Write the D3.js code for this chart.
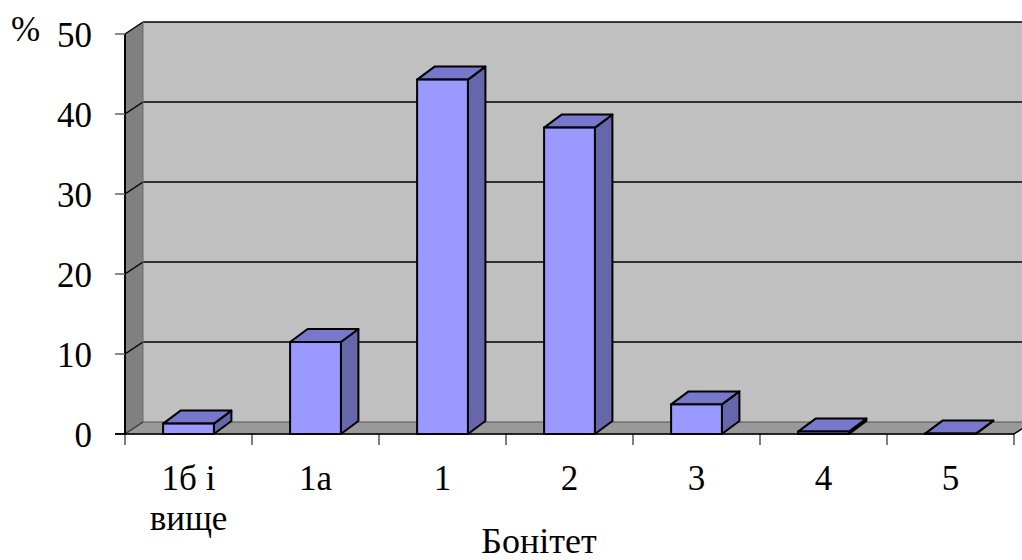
<!DOCTYPE html>
<html>
<head>
<meta charset="utf-8">
<script src="https://cdn.jsdelivr.net/npm/d3@7"></script>
<style>
  html, body { margin: 0; padding: 0; background: #fff; }
  svg { display: block; }
  text { font-family: "Liberation Serif", "Times New Roman", serif; fill: #000; }
</style>
</head>
<body>
<svg id="chart" width="1022" height="560"></svg>
<script>
const categories = ["1б і вище", "1а", "1", "2", "3", "4", "5"];
const values = [1.3, 11.5, 44.3, 38.3, 3.7, 0.3, 0.05];
const yTicks = [0, 10, 20, 30, 40, 50];
const yUnit = "%";
const xTitle = "Бонітет";

const svg = d3.select("#chart");
const W = 1022, H = 560;

const x0 = 125, x1 = 1014;        // front plot edge
const yTop = 34, yBot = 434;      // front value range
const DX = 18, DY = 12;           // wall depth
const BDX = 17.5, BDY = 13;       // bar depth

const x = d3.scaleBand().domain(categories).range([x0, x1]).paddingInner(0.6).paddingOuter(0.3);
const y = d3.scaleLinear().domain([0, 50]).range([yBot, yTop]);

// left wall
svg.append("polygon")
  .attr("points", [[x0, y(50)], [x0 + DX, y(50) - DY], [x0 + DX, y(0) - DY], [x0, y(0)]].join(" "))
  .attr("fill", "#808080");

// back wall
svg.append("rect")
  .attr("x", x0 + DX).attr("y", y(50) - DY)
  .attr("width", W - (x0 + DX) + 5).attr("height", y(0) - y(50))
  .attr("fill", "#c0c0c0");

// floor
svg.append("polygon")
  .attr("points", [[x0, y(0)], [x0 + DX, y(0) - DY], [x1 + DX, y(0) - DY], [x1, y(0)]].join(" "))
  .attr("fill", "#999999")
  .attr("stroke", "#555").attr("stroke-width", 1.2);

// gridlines (back wall + left wall diagonals)
yTicks.forEach(v => {
  if (v > 0) {
    svg.append("line")
      .attr("x1", x0 + DX).attr("x2", W + 5)
      .attr("y1", y(v) - DY).attr("y2", y(v) - DY)
      .attr("stroke", "#000").attr("stroke-width", 1.5);
  }
  svg.append("line")
    .attr("x1", x0).attr("y1", y(v))
    .attr("x2", x0 + DX).attr("y2", y(v) - DY)
    .attr("stroke", v === 0 ? "#444" : "#000").attr("stroke-width", 1.5);
});

// back wall left edge
svg.append("line")
  .attr("x1", x0 + DX).attr("x2", x0 + DX)
  .attr("y1", y(50) - DY).attr("y2", y(0) - DY)
  .attr("stroke", "#6a6a6a").attr("stroke-width", 1);

// left wall front edge (value axis)
svg.append("line")
  .attr("x1", x0).attr("x2", x0).attr("y1", y(50)).attr("y2", y(0))
  .attr("stroke", "#000").attr("stroke-width", 2);

// y ticks and labels
yTicks.forEach(v => {
  svg.append("line")
    .attr("x1", x0 - 10).attr("x2", x0).attr("y1", y(v)).attr("y2", y(v))
    .attr("stroke", v === 0 ? "#000" : "#666").attr("stroke-width", 1.5);
  svg.append("text")
    .attr("x", 92).attr("y", y(v) + 13)
    .attr("text-anchor", "end")
    .attr("font-size", 35)
    .text(v);
});

svg.append("text").attr("x", 11).attr("y", 41).attr("font-size", 35).text(yUnit);

// category axis line
svg.append("line")
  .attr("x1", x0 - 10).attr("x2", x1).attr("y1", y(0)).attr("y2", y(0))
  .attr("stroke", "#000").attr("stroke-width", 1.5);
svg.append("line")
  .attr("x1", x1).attr("y1", y(0)).attr("x2", x1 + DX).attr("y2", y(0) - DY)
  .attr("stroke", "#000").attr("stroke-width", 1.2);

// category ticks
const step = x.step();
d3.range(categories.length + 1).forEach(i => {
  const tx = x0 + i * step;
  svg.append("line")
    .attr("x1", tx).attr("x2", tx).attr("y1", y(0)).attr("y2", y(0) + 11)
    .attr("stroke", "#000").attr("stroke-width", 1);
});

// bars
const bw = x.bandwidth();
const bars = svg.append("g").selectAll("g").data(categories.map((c, i) => ({ c, v: values[i] }))).join("g");
bars.each(function(d) {
  const g = d3.select(this);
  const bx = x(d.c), by = y(d.v), bb = y(0);
  // side
  g.append("polygon")
    .attr("points", [[bx + bw, by], [bx + bw + BDX, by - BDY], [bx + bw + BDX, bb - BDY], [bx + bw, bb]].join(" "))
    .attr("fill", "#6666aa").attr("stroke", "#000").attr("stroke-width", 2).attr("stroke-linejoin", "round");
  // top
  g.append("polygon")
    .attr("points", [[bx, by], [bx + BDX, by - BDY], [bx + bw + BDX, by - BDY], [bx + bw, by]].join(" "))
    .attr("fill", "#7777cc").attr("stroke", "#000").attr("stroke-width", 2).attr("stroke-linejoin", "round");
  // front
  g.append("rect")
    .attr("x", bx).attr("y", by).attr("width", bw).attr("height", Math.max(0, bb - by))
    .attr("fill", "#9999ff").attr("stroke", "#000").attr("stroke-width", 2);
});

// category labels
categories.forEach((c, i) => {
  const cx = x(c) + bw / 2;
  const lines = c === "1б і вище" ? ["1б і", "вище"] : [c];
  const t = svg.append("text").attr("text-anchor", "middle").attr("font-size", 35);
  lines.forEach((ln, k) => {
    t.append("tspan").attr("x", cx).attr("y", 490 + k * 40).text(ln);
  });
});

// axis title
svg.append("text")
  .attr("x", 539).attr("y", 553)
  .attr("text-anchor", "middle")
  .attr("font-size", 36)
  .text(xTitle);
</script>
</body>
</html>
